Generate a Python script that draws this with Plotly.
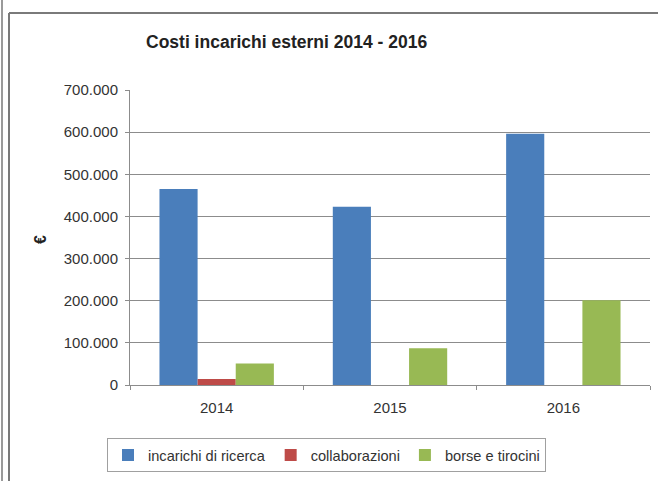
import plotly.graph_objects as go

# ---- data ----
years = ["2014", "2015", "2016"]
incarichi_ricerca = [465000, 423000, 596000]
collaborazioni = [14000, 0, 0]
borse_tirocini = [51000, 87000, 201000]
series_names = ["incarichi di ricerca", "collaborazioni", "borse e tirocini"]
series_colors = ["#4A7EBB", "#BE4B48", "#98B954"]
y_ticks = [0, 100000, 200000, 300000, 400000, 500000, 600000, 700000]

FONT = "Liberation Sans, Arial, sans-serif"

W, H = 658, 481
L, R, T, B = 130, 8, 90, 96
pw, ph = W - L - R, H - T - B

def px(x):
    return (x - L) / pw

def py(y):
    return (H - B - y) / ph

fig = go.Figure()
for name, vals, col in zip(series_names, [incarichi_ricerca, collaborazioni, borse_tirocini], series_colors):
    fig.add_trace(go.Bar(x=years, y=vals, name=name, marker=dict(color=col, line=dict(width=0))))

fig.update_layout(
    width=W, height=H,
    margin=dict(l=L, r=R, t=T, b=B, pad=0, autoexpand=False),
    paper_bgcolor="white", plot_bgcolor="white",
    separators=",.",
    barmode="group", bargap=0.34, bargroupgap=0,
    showlegend=True,
    legend=dict(
        orientation="h", x=px(107), y=py(438), xanchor="left", yanchor="top",
        bordercolor="#A0A0A0", borderwidth=1,
        font=dict(family=FONT, size=14.6, color="#333333"),
        itemwidth=30, tracegroupgap=0,
    ),
    font=dict(family=FONT, color="#333333"),
)
fig.update_xaxes(
    type="category", showgrid=False, showline=True, linecolor="#8C8C8C", linewidth=1,
    ticks="outside", tickson="boundaries", ticklen=4, tickcolor="#8C8C8C",
    tickfont=dict(family=FONT, size=15, color="#333333"),
    ticklabelstandoff=9,
    automargin=False,
)
fig.update_yaxes(
    range=[0, 700000], tickvals=y_ticks, tickformat=",d",
    showgrid=True, gridcolor="#8C8C8C", gridwidth=1,
    showline=True, linecolor="#8C8C8C", linewidth=1,
    ticks="outside", ticklen=4, tickcolor="#8C8C8C",
    tickfont=dict(family=FONT, size=15, color="#333333"),
    ticklabelstandoff=4,
    zeroline=False, automargin=False,
)

# Title
fig.add_annotation(
    text="<b>Costi incarichi esterni 2014 - 2016</b>", xref="paper", yref="paper",
    x=px(286), y=py(42), xanchor="center", yanchor="middle", showarrow=False,
    font=dict(family=FONT, size=17.5, color="#222222"),
)
# y-axis title
fig.add_annotation(
    text="<b>€</b>", xref="paper", yref="paper", x=px(40), y=py(240),
    xanchor="center", yanchor="middle", textangle=-90, showarrow=False,
    font=dict(family=FONT, size=16, color="#222222"),
)

# frame lines
fig.add_shape(type="line", xref="paper", yref="paper", x0=px(2), x1=px(2), y0=py(0), y1=py(481),
              line=dict(color="#9A9A9A", width=2))
fig.add_shape(type="line", xref="paper", yref="paper", x0=px(9), x1=px(9), y0=py(13), y1=py(481),
              line=dict(color="#7A7A7A", width=2))
fig.add_shape(type="line", xref="paper", yref="paper", x0=px(9), x1=px(658), y0=py(13), y1=py(13),
              line=dict(color="#7A7A7A", width=2))

fig.write_html("out.html", config={"displayModeBar": False},
               post_script="document.body.style.margin='0';")
